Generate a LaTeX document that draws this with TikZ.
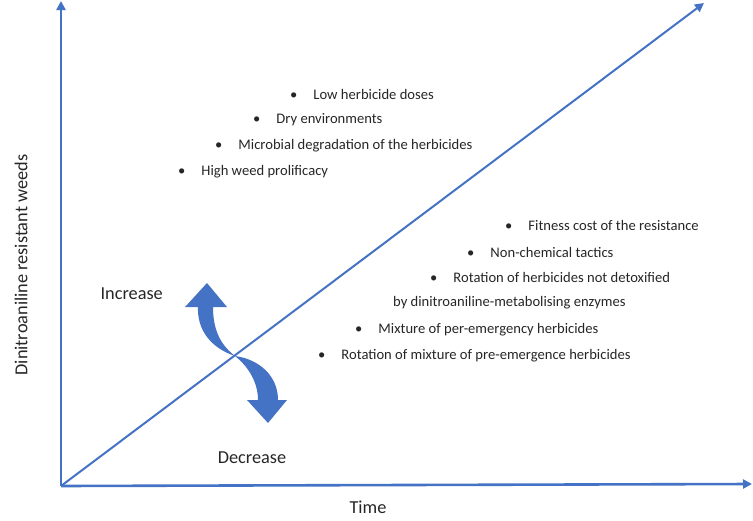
\documentclass[tikz,border=0pt]{standalone}
\usepackage{fontspec}
\setmainfont{Carlito}
\usetikzlibrary{arrows.meta}
\definecolor{axisblue}{HTML}{4472C4}
\tikzset{
    lab/.style={inner sep=0pt, font=\fontsize{14.6}{17}\selectfont, text=black!85},
    biglab/.style={lab, font=\fontsize{18.3}{21}\selectfont},
    item/.style={lab, anchor=west},
    axis/.style={axisblue, line width=2.6pt, -{Triangle[length=9pt,width=9pt]}},
}

\begin{document}
\begin{tikzpicture}[x=1pt,y=-1pt]
    \useasboundingbox (0,0) rectangle (753,520);
    \coordinate (O) at (61,486);
    \coordinate (Ytop) at (61,1);
    \coordinate (Xend) at (752,484);
    \coordinate (Dend) at (704,3);
    \draw[axis] (O) -- (Ytop);
    \draw[axis] (O) -- (Xend);
    \draw[axisblue, line width=2pt, -{Triangle[length=9pt,width=9pt]}] (O) -- (Dend);
    % factors that push resistance up
    \foreach \x/\y/\txt [count=\i] in {290/94/Low herbicide doses, 253/120/Dry environments,
        215/146/Microbial degradation of the herbicides, 178/172/High weed prolificacy}{
    \node[item] (up\i) at (\x,\y) {\textbullet\hspace{16pt}\txt};
    }
    % factors that pull it down
    \foreach \x/\y/\txt [count=\i] in {505/225/Fitness cost of the resistance, 467/252/Non-chemical tactics,
        430/277/Rotation of herbicides not detoxified, 355/330/Mixture of per-emergency herbicides,
        318/356/Rotation of mixture of pre-emergence herbicides}{
    \node[item] (down\i) at (\x,\y) {\textbullet\hspace{16pt}\txt};
    }
    \node[item] (down3b) at (393,303) {by dinitroaniline-metabolising enzymes};
    \node[biglab, anchor=east] (inc) at (163,294) {Increase};
    \node[biglab] (dec) at (252,458) {Decrease};
    \node[biglab] (time) at (368,507) {Time};
    \node[biglab, rotate=90] (weeds) at (21,265) {Dinitroaniline resistant weeds};
    % the two curved arrows
    \coordinate (X) at (235,356);
    \fill[axisblue] (X) .. controls (222,346) and (213,332) .. (213,307) -- (227,307) -- (207,283)
        -- (185,307) -- (198,307) .. controls (197,330) and (211,348) .. (X) -- cycle;
    \fill[axisblue] (X) .. controls (258,359) and (278,375) .. (278,400) -- (287,400) -- (268,423)
        -- (247,400) -- (258,400) .. controls (258,384) and (250,368) .. (X) -- cycle;
\end{tikzpicture}
\end{document}
